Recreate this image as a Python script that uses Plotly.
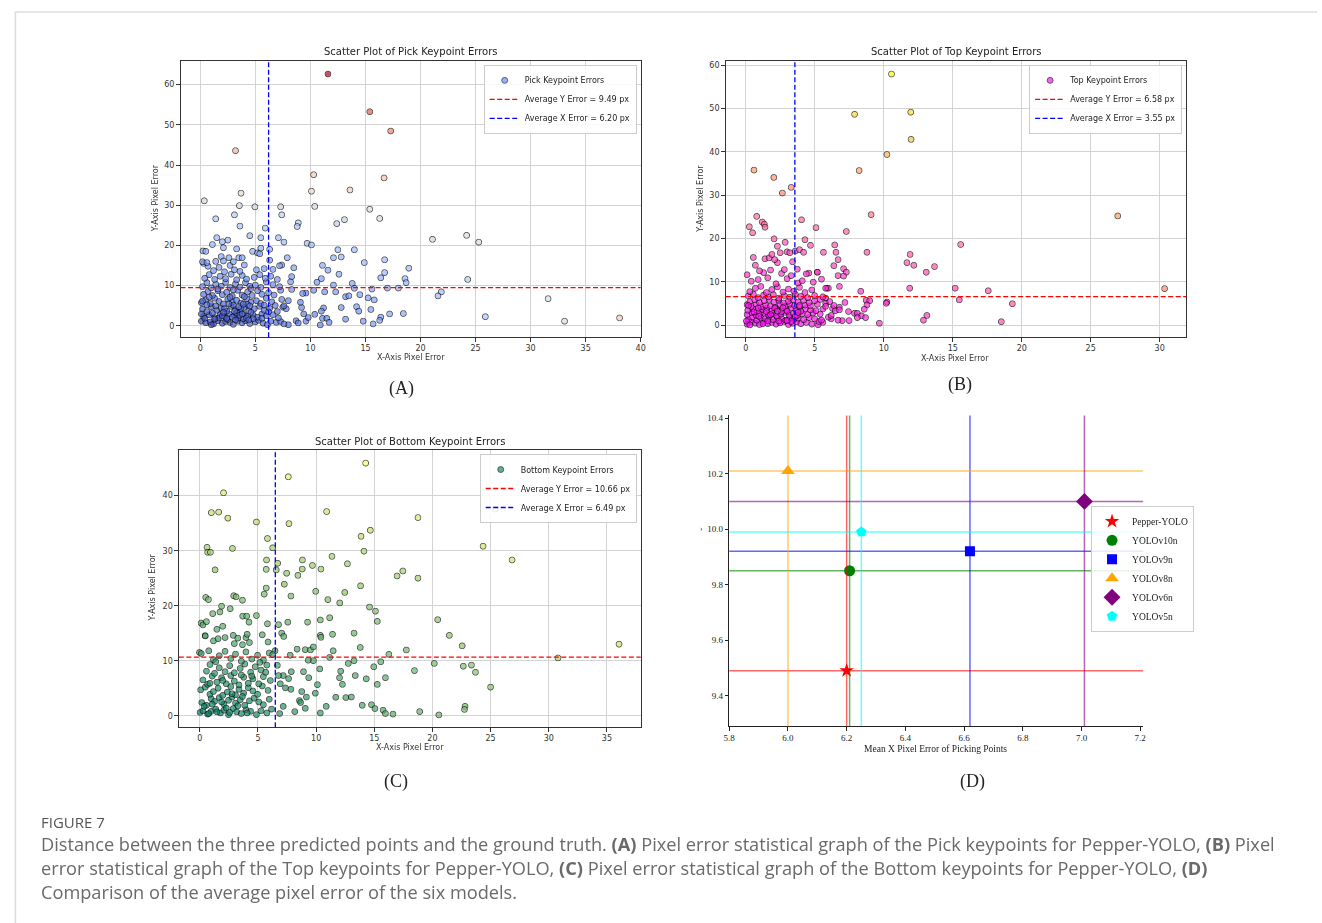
import numpy as np
import plotly.graph_objects as go

W, H = 1322, 923

# ---------------- DATA ----------------
# (A) Pick keypoint errors: x / y pixel error
pick_x = [11.6, 15.4, 17.3, 3.2, 10.3, 16.7, 13.6, 10.1, 3.7, 0.36,
          3.55, 4.96, 7.3, 10.4, 15.4, 3.1, 7.4, 1.4, 16.3, 13.1,
          12.4, 8.9, 8.8, 3.6, 5.9, 21.1, 24.2, 25.3, 4.5, 7.1,
          5.5, 1.5, 2.5, 2.0, 7.6, 1.1, 9.7, 10.1, 2.1, 5.5,
          3.3, 6.3, 12.5, 14.0, 0.24, 0.5, 4.75, 5.2, 12.8, 12.1,
          7.9, 16.75, 14.9, 11.1, 7.4, 18.95, 11.6, 16.75, 12.6, 8.3,
          16.4, 18.6, 18.7, 24.3, 11.0, 10.6, 13.8, 12.1, 17.0, 18.0,
          15.6, 14.0, 11.3, 12.3, 10.3, 21.9, 21.6, 31.6, 13.2, 13.5,
          14.5, 15.25, 15.8, 14.2, 14.4, 15.5, 12.8, 11.2, 11.0, 10.4,
          17.2, 18.45, 25.9, 38.1, 33.1, 16.4, 16.3, 13.2, 14.8, 15.7,
          11.1, 11.5, 11.7, 10.9, 9.6, 9.8, 9.4, 9.2, 9.1, 9.6,
          9.3, 8.7, 8.9, 8.0, 8.3, 8.2, 8.5,
          0.1, 0.5, 0.9, 1.2, 1.6, 2.0, 2.3, 2.7, 3.0, 3.4, 3.8, 4.1, 4.5, 5.0, 5.3, 5.7, 6.1, 6.4, 6.9, 7.3, 7.6,
          0.3, 0.8, 1.3, 1.8, 2.2, 2.6, 3.1, 3.5, 3.9, 4.3, 4.8, 5.2, 5.6, 6.0, 6.6, 7.1,
          0.2, 0.6, 1.0, 1.5, 1.9, 2.4, 2.8, 3.2, 3.6, 4.0, 4.4, 4.9, 5.4, 5.8, 6.3, 7.0, 7.5,
          0.1, 0.5, 0.9, 1.3, 1.7, 2.1, 2.5, 2.9, 3.3, 3.7, 4.2, 4.6, 5.1, 5.5, 6.0, 6.5, 7.4,
          0.3, 0.7, 1.1, 1.6, 2.0, 2.4, 2.9, 3.4, 3.8, 4.3, 4.7, 5.2, 5.6, 6.2, 6.7, 7.3,
          0.2, 0.6, 1.0, 1.4, 1.9, 2.3, 2.7, 3.2, 3.6, 4.1, 4.5, 5.0, 5.5, 6.0, 6.6, 7.2,
          0.4, 0.8, 1.3, 1.8, 2.3, 2.8, 3.3, 3.8, 4.2, 4.9, 5.4, 5.9, 6.4, 7.0,
          0.3, 0.7, 1.2, 1.7, 2.2, 2.7, 3.1, 3.6, 4.0, 5.1, 5.8, 6.6, 7.2,
          0.2, 0.6, 1.4, 1.9, 2.1, 2.6, 3.0, 3.5, 3.8, 6.3, 5.4,
          0.4, 1.1, 1.7, 2.5, 3.3, 3.9, 4.6, 2.2, 3.0, 3.7, 4.3, 1.4, 0.8, 2.7, 4.0, 1.6, 3.0, 4.6, 0.1, 0.2, 5.8, 2.0, 3.6, 4.8, 1.0,
          2.4, 2.9, 3.2, 3.5, 3.9, 4.2, 4.5, 2.6, 3.1, 3.8, 4.4, 2.1, 1.3, 0.6, 5.6, 6.2, 6.8, 7.8, 7.6, 8.0]
pick_y = [62.8, 53.4, 48.6, 43.7, 37.7, 36.9, 33.9, 33.6, 33.1, 31.2,
          30.0, 29.7, 29.7, 29.8, 29.1, 27.7, 27.7, 26.7, 26.8, 26.5,
          25.5, 25.7, 24.8, 24.9, 24.4, 21.6, 22.6, 20.9, 22.5, 22.0,
          22.0, 22.0, 21.4, 21.0, 20.9, 20.3, 20.6, 20.2, 19.5, 19.4,
          19.2, 19.1, 19.0, 19.0, 18.7, 18.6, 18.6, 18.2, 17.2, 17.0,
          17.0, 16.5, 15.8, 15.1, 15.2, 14.4, 13.9, 13.3, 12.9, 12.3,
          12.0, 11.8, 10.8, 11.6, 11.8, 10.9, 10.6, 10.2, 9.45, 9.45,
          9.2, 9.4, 8.5, 8.5, 8.9, 8.5, 7.5, 6.8, 7.3, 7.5,
          7.8, 7.0, 6.5, 4.8, 3.7, 4.1, 4.6, 4.5, 3.7, 2.9,
          3.0, 3.1, 2.3, 2.0, 1.2, 2.2, 1.4, 1.7, 1.2, 0.5,
          1.9, 1.9, 0.9, 0.25, 1.2, 2.1, 3.0, 4.6, 5.9, 8.2,
          8.1, 1.3, 0.75, 0.3, 9.1, 11.0, 14.5,
          1.2, 0.8, 1.0, 0.5, 1.3, 0.7, 1.1, 0.9, 0.4, 1.2, 0.8, 1.3, 0.6, 1.0, 1.4, 0.7, 0.3, 1.2, 0.9, 1.1, 0.5,
          2.4, 2.8, 2.1, 2.9, 2.3, 3.0, 2.6, 2.0, 2.9, 2.4, 2.7, 2.2, 3.0, 2.5, 2.8, 2.0,
          4.2, 3.6, 4.8, 3.9, 4.5, 3.7, 4.9, 4.1, 3.5, 4.6, 3.8, 4.3, 4.9, 3.9, 4.4, 3.6, 4.7,
          5.8, 6.5, 5.6, 6.9, 6.1, 5.5, 6.7, 5.9, 6.4, 5.7, 6.8, 5.9, 6.3, 5.6, 6.9, 6.0, 6.6,
          7.9, 8.6, 7.6, 8.8, 7.8, 8.4, 7.5, 8.9, 7.7, 8.5, 7.6, 8.8, 7.9, 8.3, 7.7, 8.9,
          9.8, 10.8, 9.5, 10.4, 9.9, 10.9, 9.6, 10.5, 9.7, 10.8, 9.9, 10.2, 9.6, 11.0, 10.3, 9.8,
          11.9, 12.8, 11.6, 12.4, 11.8, 12.9, 11.5, 12.6, 11.7, 12.1, 12.8, 11.9, 12.4, 11.6,
          15.6, 14.9, 13.8, 14.6, 13.5, 15.1, 14.0, 13.6, 15.2, 14.0, 14.3, 14.1, 15.0,
          16.0, 15.8, 16.1, 17.3, 16.2, 17.0, 16.0, 17.0, 17.0, 16.4, 18.0,
          1.9, 3.2, 2.0, 1.6, 3.3, 1.8, 3.4, 4.3, 5.2, 4.4, 5.3, 5.0, 7.2, 7.1, 7.3, 9.2, 9.0, 9.3, 3.0, 6.2, 5.2, 2.5, 2.7, 1.8, 0.3,
          1.9, 2.2, 1.5, 4.8, 5.4, 2.0, 5.0, 5.5, 3.7, 3.0, 1.5, 3.4, 1.7, 5.3, 1.9, 3.5, 5.1, 4.3, 5.0, 6.3]

# (B) Top keypoint errors
top_x = [10.58, 7.9, 11.98, 12.0, 10.25, 8.23, 0.6, 2.04, 3.3, 2.66,
         27.0, 9.1, 0.8, 4.05, 1.2, 1.35, 1.4, 0.26, 0.5, 5.1,
         7.3, 2.06, 4.3, 2.86, 4.7, 6.46, 15.6, 2.3, 8.8, 6.55,
         5.64, 11.93, 11.7, 12.2, 13.7, 13.1, 7.1, 7.3, 6.4, 6.7,
         6.7, 7.1, 6.8, 5.2, 4.58, 3.74, 11.9, 15.2, 17.6, 30.4,
         8.35, 15.5, 19.35, 10.25, 10.2, 8.74, 9.0, 8.8, 8.6, 7.46,
         13.15, 12.9, 18.55, 9.7, 7.9, 8.1, 8.4, 8.1, 8.7, 7.5,
         7.0, 6.7, 6.2, 5.6, 5.25, 6.8, 6.3, 6.5, 5.9, 6.0,
         5.8, 5.8, 7.2,
         0.1, 0.4, 0.7, 1.0, 1.3, 1.6, 1.9, 2.2, 2.5, 2.8, 3.1, 3.4, 3.7, 4.0, 4.4, 4.8, 5.3,
         0.2, 0.5, 0.8, 1.1, 1.4, 1.7, 2.0, 2.3, 2.6, 2.9, 3.2, 3.5, 3.8, 4.2, 4.6, 5.0, 5.5, 6.0,
         0.1, 0.45, 0.75, 1.05, 1.35, 1.65, 1.95, 2.25, 2.55, 2.85, 3.15, 3.45, 3.75, 4.1, 4.5, 4.9, 5.4, 6.2,
         0.15, 0.5, 0.85, 1.2, 1.55, 1.9, 2.25, 2.6, 2.95, 3.3, 3.65, 4.0, 4.35, 4.7, 5.1, 5.6, 6.8,
         0.1, 0.4, 0.75, 1.1, 1.45, 1.8, 2.15, 2.5, 2.85, 3.2, 3.55, 3.9, 4.3, 4.7, 5.2, 5.8, 6.4,
         0.3, 0.65, 1.0, 1.35, 1.7, 2.05, 2.4, 2.75, 3.1, 3.45, 3.8, 4.2, 4.6, 5.0, 5.4, 6.1,
         0.2, 0.55, 0.9, 1.3, 1.65, 2.0, 2.4, 2.8, 3.2, 3.6, 4.0, 4.5, 5.0, 5.6,
         0.3, 0.7, 1.1, 1.5, 1.9, 2.3, 2.7, 3.1, 3.5, 3.9, 4.3, 4.8, 5.8,
         0.1, 0.4, 0.9, 1.3, 1.6, 2.2, 2.6, 3.0, 3.3, 3.8, 4.1, 4.4, 4.9, 5.2, 5.5,
         0.7, 1.0, 1.4, 1.7, 1.9, 2.3, 2.5, 2.8, 3.0, 3.2, 3.4, 3.6, 3.9, 4.2, 0.55, 1.8, 2.1,
         0.05, 0.3, 0.6, 0.95, 1.25, 1.5, 1.8, 2.1, 2.4, 2.7, 3.0, 3.3, 3.6, 3.9, 0.2, 0.9, 1.6, 2.3, 3.0, 3.8]
top_y = [58.1, 48.8, 49.3, 43.0, 39.5, 35.8, 35.9, 34.2, 31.9, 30.6,
         25.3, 25.6, 25.2, 24.4, 23.9, 23.4, 22.7, 22.8, 21.4, 22.6,
         21.7, 20.0, 19.8, 19.2, 18.5, 18.6, 18.7, 18.3, 16.9, 16.9,
         16.9, 16.4, 14.5, 13.9, 13.6, 12.3, 13.1, 12.3, 13.8, 15.2,
         11.5, 11.4, 9.0, 12.3, 12.1, 13.0, 8.6, 8.6, 8.0, 8.5,
         7.9, 5.9, 5.0, 5.4, 5.1, 5.8, 5.7, 4.75, 3.75, 3.2,
         2.3, 1.2, 0.85, 0.5, 2.8, 2.8, 2.2, 1.8, 1.8, 1.1,
         1.1, 1.2, 1.5, 0.7, 0.15, 4.2, 3.9, 3.4, 8.6, 8.6,
         6.3, 5.1, 5.3,
         0.3, 0.8, 0.5, 0.2, 0.9, 0.4, 0.7, 0.3, 0.6, 0.9, 0.2, 0.5, 0.8, 0.4, 0.7, 0.3, 0.9,
         1.4, 1.9, 1.2, 1.7, 1.5, 2.0, 1.3, 1.8, 1.6, 1.2, 1.9, 1.4, 1.7, 1.3, 1.8, 1.5, 1.2, 1.9,
         2.5, 2.9, 2.3, 2.7, 3.0, 2.4, 2.8, 2.2, 2.6, 3.0, 2.4, 2.8, 2.3, 2.7, 2.5, 2.9, 2.6, 2.3,
         3.5, 3.9, 3.3, 3.7, 4.0, 3.4, 3.8, 3.2, 3.6, 4.0, 3.5, 3.3, 3.9, 3.6, 3.4, 3.8, 3.6,
         4.8, 4.4, 4.9, 4.3, 4.7, 4.5, 4.2, 4.8, 4.4, 4.9, 4.6, 4.3, 4.7, 4.5, 4.9, 4.4, 4.6,
         5.5, 5.9, 5.3, 5.7, 6.0, 5.4, 5.8, 5.2, 5.6, 6.0, 5.4, 5.8, 5.3, 5.7, 6.0, 5.5,
         6.8, 7.2, 6.4, 7.0, 6.6, 7.1, 6.3, 6.9, 6.5, 7.2, 6.7, 6.4, 6.9, 6.6,
         7.8, 8.6, 9.0, 7.6, 8.3, 8.9, 7.7, 8.4, 7.9, 8.8, 7.6, 8.2, 8.6,
         11.7, 10.2, 10.6, 12.2, 11.0, 9.6, 12.0, 10.8, 11.5, 9.8, 10.3, 11.9, 10.0, 12.3, 10.7,
         13.9, 12.6, 15.4, 15.6, 16.4, 14.5, 16.8, 12.9, 17.0, 16.8, 14.7, 17.2, 17.5, 16.9, 15.7, 12.8, 15.2,
         1.0, 0.1, 3.1, 2.1, 0.4, 3.2, 2.5, 4.0, 1.0, 4.1, 3.3, 0.9, 2.1, 4.6, 4.6, 4.0, 1.0, 3.3, 1.1, 3.0]

# (C) Bottom keypoint errors
bottom_x = [14.3, 7.64, 2.07, 1.02, 1.65, 10.94, 25.45, 2.44, 18.8, 4.9,
            7.7, 14.7, 13.9, 5.85, 6.3, 24.4, 0.65, 0.7, 0.94, 2.84,
            14.15, 11.4, 26.9, 5.77, 8.86, 6.73, 12.73, 9.72, 8.84, 10.45,
            5.74, 6.6, 1.34, 17.5, 17.0, 7.5, 8.47, 18.8, 13.86, 5.74,
            7.3, 10.0, 12.5, 5.57, 7.87, 2.95, 3.15, 3.7, 11.05, 0.54,
            0.77, 12.07, 14.63, 15.14, 1.9, 2.64, 1.76, 1.14, 4.9, 3.72,
            4.06, 11.2, 15.3, 20.5, 10.4, 9.3, 7.6, 6.8, 5.85, 0.14,
            0.3, 0.6, 2.0, 4.26, 13.3, 11.45, 21.5, 10.4, 10.45, 7.07,
            7.25, 5.4, 0.48, 4.0, 22.6, 13.83, 17.8, 9.1, 9.55, 9.8,
            8.4, 11.5, 16.3, 36.1, 30.85, 11.2, 7.8, 20.2, 23.4, 22.7,
            23.75, 18.5, 15.6, 15.0, 13.3, 12.8, 9.8, 9.35, 9.4, 8.95,
            10.35, 12.15, 13.4, 14.35, 16.0, 12.05, 15.3, 12.3, 25.05, 10.15,
            8.8, 9.2, 8.6, 8.7, 9.97, 11.73, 12.6, 13.07, 10.9, 10.4,
            9.1, 8.2, 7.2, 6.9, 14.0, 14.8, 15.1, 15.8, 16.0, 16.65,
            18.95, 20.6, 22.85, 22.8, 7.2, 6.8, 6.95, 7.4, 6.7, 7.9,
            7.67, 7.87, 6.5,
            0.05, 0.3, 0.7, 1.0, 1.4, 1.8, 2.1, 2.5, 2.9, 3.2, 3.6, 4.0, 4.4, 4.9, 5.3, 5.8, 6.2,
            0.2, 0.6, 1.0, 1.3, 1.7, 2.1, 2.5, 2.8, 3.1, 3.5, 3.9, 4.3, 4.7, 5.1, 5.5, 6.0,
            0.1, 0.5, 0.9, 1.2, 1.6, 2.0, 2.4, 2.7, 3.1, 3.4, 3.8, 4.2, 4.6, 5.0, 5.4, 5.9,
            0.3, 0.7, 1.1, 1.5, 1.9, 2.3, 2.7, 3.0, 3.4, 3.8, 4.2, 4.6, 5.1, 5.5, 6.1,
            0.6, 0.9, 1.3, 1.7, 2.2, 2.6, 3.0, 3.5, 3.9, 4.4, 4.8, 5.3, 5.8,
            0.0, 0.15, 0.8, 1.2, 1.7, 2.2, 2.7, 3.1, 3.6, 4.0, 4.5, 5.0, 5.5, 6.0, 6.3,
            0.5, 1.2, 1.6, 2.2, 2.9, 3.3, 3.7, 4.1, 4.3, 5.9, 1.5, 3.0,
            0.4, 0.8, 1.1, 1.5, 1.9, 2.3, 2.6, 3.3, 3.7, 4.1, 2.0, 2.8, 3.6, 1.4, 0.9, 4.5, 5.2, 5.7]
bottom_y = [46.0, 43.5, 40.6, 37.0, 37.1, 37.2, 37.65, 36.0, 36.1, 35.3,
            35.0, 33.8, 32.7, 32.3, 30.6, 30.9, 30.7, 29.8, 29.8, 30.5,
            30.0, 29.05, 28.4, 28.4, 28.4, 27.8, 27.7, 27.4, 26.75, 26.75,
            26.7, 26.6, 26.6, 26.4, 25.5, 26.0, 25.6, 25.1, 23.7, 23.3,
            24.0, 22.7, 22.5, 22.2, 21.85, 21.9, 21.7, 21.1, 21.2, 21.6,
            21.2, 20.6, 19.85, 19.1, 20.0, 19.55, 18.95, 18.65, 18.3, 18.2,
            18.2, 17.9, 17.25, 17.55, 17.5, 17.1, 17.1, 16.65, 16.8, 16.95,
            16.6, 17.2, 16.35, 17.1, 15.1, 14.9, 14.7, 14.7, 14.35, 15.1,
            14.5, 14.8, 14.65, 14.3, 12.8, 12.5, 12.05, 12.1, 12.05, 12.6,
            12.2, 11.9, 11.25, 13.1, 10.6, 10.7, 11.1, 9.6, 9.3, 9.1,
            8.0, 8.3, 9.9, 9.0, 10.1, 9.6, 10.1, 10.2, 7.0, 8.1,
            8.6, 8.2, 7.4, 6.8, 7.0, 7.0, 5.8, 5.8, 5.3, 5.75,
            4.5, 3.5, 2.85, 2.5, 4.2, 3.45, 3.4, 3.5, 1.8, 0.6,
            1.45, 0.85, 1.8, 0.5, 2.0, 2.1, 1.4, 1.1, 0.5, 0.4,
            0.85, 0.25, 1.8, 1.25, 7.4, 7.4, 5.9, 5.15, 9.25, 8.1,
            6.85, 4.9, 11.9,
            0.7, 1.0, 0.4, 0.9, 1.3, 0.6, 1.1, 0.3, 1.4, 0.8, 0.5, 1.2, 0.9, 0.3, 1.0, 0.6, 1.3,
            2.5, 2.0, 3.2, 2.7, 3.4, 2.2, 2.9, 3.5, 2.4, 3.0, 2.0, 2.8, 3.3, 2.6, 2.1, 3.1,
            4.8, 5.3, 4.0, 4.5, 5.1, 3.8, 4.4, 5.4, 3.9, 4.9, 4.2, 5.2, 4.6, 4.0, 5.5, 4.7,
            6.6, 5.8, 7.3, 6.2, 7.0, 5.9, 7.4, 6.4, 5.7, 7.1, 6.0, 6.8, 5.9, 7.2, 6.5,
            8.2, 9.4, 7.8, 8.8, 8.1, 9.2, 7.9, 8.7, 9.5, 8.0, 9.0, 8.4, 9.3,
            11.6, 11.4, 11.9, 10.3, 11.0, 11.8, 10.5, 11.3, 10.0, 11.7, 10.4, 11.1, 10.2, 11.5, 11.2,
            14.6, 13.7, 14.1, 14.3, 14.7, 14.2, 13.0, 14.9, 13.4, 13.5, 15.8, 13.2,
            1.8, 0.5, 2.2, 0.8, 2.6, 1.5, 0.7, 1.9, 3.6, 0.6, 6.5, 4.1, 7.5, 9.9, 6.0, 7.3, 9.8, 8.0]

avg_labels = ["Pick", "Top", "Bottom"]
avg_x_err = [6.20, 3.55, 6.49]
avg_y_err = [9.49, 6.58, 10.66]

# (D) model comparison
models = ["Pepper-YOLO", "YOLOv10n", "YOLOv9n", "YOLOv8n", "YOLOv6n", "YOLOv5n"]
mean_x = [6.20, 6.21, 6.62, 6.00, 7.01, 6.25]
mean_y = [9.49, 9.85, 9.92, 10.21, 10.10, 9.99]

# ---------------- STYLE ----------------
model_colors = ["#ff0000", "#008000", "#0000ff", "#ffa500", "#800080", "#00ffff"]
model_symbols = ["star", "circle", "square", "triangle-up", "diamond", "pentagon"]
model_sizes = [11, 11, 10, 12, 13, 11]

coolwarm = [[0.0, "#3b4cc0"], [0.1, "#5470de"], [0.2, "#6f92f3"], [0.3, "#8db0fe"],
            [0.4, "#aac7fd"], [0.5, "#dddcdc"], [0.6, "#f2cbb7"], [0.7, "#f7ac8e"],
            [0.8, "#ee8468"], [0.9, "#d65244"], [1.0, "#b40426"]]
spring = [[0.0, "#ff00ff"], [1.0, "#ffff00"]]
summer = [[0.0, "#008066"], [1.0, "#ffff66"]]


def fx(px):
    return px / W


def fy(py):
    return 1 - py / H


def mrange(v):
    lo, hi = min(v), max(v)
    pad = 0.05 * (hi - lo)
    return [lo - pad, hi + pad]


fig = go.Figure()

panels = [
    dict(name="Pick", xs=pick_x, ys=pick_y, cs=coolwarm, lc="#7b9ff9", ax="x", ay="y",
         leg="legend", dom_x=[176, 640], dom_y=[59, 336], title_c=(408, 50),
         xl=(408, 356), yl=(151, 197), legpos=(636, 63), lab=("(A)", 399, 387)),
    dict(name="Top", xs=top_x, ys=top_y, cs=spring, lc="#f03ce8", ax="x2", ay="y2",
         leg="legend2", dom_x=[725.7, 1190], dom_y=[59, 336], title_c=(958, 50),
         xl=(957, 357), yl=(700, 197), legpos=(1186, 63), lab=("(B)", 962, 383)),
    dict(name="Bottom", xs=bottom_x, ys=bottom_y, cs=summer, lc="#3a9a70", ax="x3", ay="y3",
         leg="legend3", dom_x=[174.3, 640], dom_y=[449, 726.7], title_c=(407, 440),
         xl=(407, 747), yl=(148, 587), legpos=(636, 453), lab=("(C)", 393, 781)),
]

sans = "DejaVu Sans"
serif = "Liberation Serif"
annotations = []
shapes = []
layout_axes = {}

for i, p in enumerate(panels):
    xs = np.array(p["xs"])
    ys = np.array(p["ys"])
    dist = np.sqrt(xs ** 2 + ys ** 2)
    fig.add_trace(go.Scattergl(
        x=xs, y=ys, mode="markers", xaxis=p["ax"], yaxis=p["ay"], showlegend=False,
        marker=dict(size=6, color=dist, colorscale=p["cs"], opacity=0.7,
                    line=dict(color="black", width=0.7)),
        hoverinfo="skip"))
    fig.add_trace(go.Scatter(
        x=[None], y=[None], mode="markers", xaxis=p["ax"], yaxis=p["ay"],
        name=f"{p['name']} Keypoint Errors", legend=p["leg"],
        marker=dict(size=6, color=p["lc"], opacity=0.8, line=dict(color="black", width=0.7))))
    shapes.append(dict(type="line", xref=f"{p['ax']} domain", yref=p["ay"], x0=0, x1=1,
                       y0=avg_y_err[i], y1=avg_y_err[i],
                       line=dict(color="#ff0000", width=1.3, dash="5px,2.5px"),
                       showlegend=True, legend=p["leg"],
                       name=f"Average Y Error = {avg_y_err[i]:.2f} px"))
    shapes.append(dict(type="line", xref=p["ax"], yref=f"{p['ay']} domain", y0=0, y1=1,
                       x0=avg_x_err[i], x1=avg_x_err[i],
                       line=dict(color="#0000ff", width=1.3, dash="5px,2.5px"),
                       showlegend=True, legend=p["leg"],
                       name=f"Average X Error = {avg_x_err[i]:.2f} px"))
    axis_style = dict(showline=True, mirror=True, linecolor="#333333", linewidth=1,
                      showgrid=True, gridcolor="#d3d3d3", gridwidth=1, zeroline=False,
                      ticks="outside", ticklen=3.5, tickwidth=1, tickcolor="#333333",
                      tickfont=dict(family=sans, size=8, color="#333333"))
    xkey = "xaxis" if p["ax"] == "x" else "xaxis" + p["ax"][1:]
    ykey = "yaxis" if p["ay"] == "y" else "yaxis" + p["ay"][1:]
    layout_axes[xkey] = dict(axis_style, domain=[fx(p["dom_x"][0]), fx(p["dom_x"][1])],
                             anchor=p["ay"], range=mrange(p["xs"]), dtick=5, tick0=0)
    layout_axes[ykey] = dict(axis_style, domain=[fy(p["dom_y"][1]), fy(p["dom_y"][0])],
                             anchor=p["ax"], range=mrange(p["ys"]), dtick=10, tick0=0)
    annotations.append(dict(text=f"Scatter Plot of {p['name']} Keypoint Errors", xref="paper",
                            yref="paper", x=fx(p["title_c"][0]), y=fy(p["title_c"][1]),
                            xanchor="center", yanchor="middle", showarrow=False,
                            font=dict(family=sans, size=10, color="#222222")))
    annotations.append(dict(text="X-Axis Pixel Error", xref="paper", yref="paper",
                            x=fx(p["xl"][0]), y=fy(p["xl"][1]), xanchor="center",
                            yanchor="middle", showarrow=False,
                            font=dict(family=sans, size=8, color="#333333")))
    annotations.append(dict(text="Y-Axis Pixel Error", xref="paper", yref="paper",
                            x=fx(p["yl"][0]), y=fy(p["yl"][1]), xanchor="center",
                            yanchor="middle", showarrow=False, textangle=-90,
                            font=dict(family=sans, size=8, color="#333333")))
    annotations.append(dict(text=p["lab"][0], xref="paper", yref="paper",
                            x=fx(p["lab"][1]), y=fy(p["lab"][2]), xanchor="center",
                            yanchor="middle", showarrow=False,
                            font=dict(family=serif, size=18, color="#222222")))

# Panel D
for j in range(len(models)):
    shapes.append(dict(type="line", xref="x4", yref="y4 domain", x0=mean_x[j], x1=mean_x[j],
                       y0=0, y1=1, line=dict(color=model_colors[j], width=1.5),
                       opacity=0.6, layer="above"))
    shapes.append(dict(type="line", xref="x4 domain", yref="y4", x0=0, x1=1,
                       y0=mean_y[j], y1=mean_y[j], line=dict(color=model_colors[j], width=1.5),
                       opacity=0.6, layer="above"))
for j in range(len(models)):
    fig.add_trace(go.Scatter(
        x=[mean_x[j]], y=[mean_y[j]], mode="markers", xaxis="x4", yaxis="y4",
        name=models[j], legend="legend4",
        marker=dict(symbol=model_symbols[j], size=model_sizes[j], color=model_colors[j],
                    line=dict(width=0))))

d_axis = dict(showline=True, mirror=False, linecolor="#222222", linewidth=1, showgrid=False,
              zeroline=False, ticks="outside", ticklen=3.5, tickwidth=1, tickcolor="#222222",
              tickfont=dict(family=serif, size=9, color="#222222"))
layout_axes["xaxis4"] = dict(d_axis, domain=[fx(729.3), fx(1146.7)], anchor="y4",
                             range=[5.8, 7.21], dtick=0.2, tick0=5.8, tickformat=".1f")
layout_axes["yaxis4"] = dict(d_axis, domain=[fy(725.7), fy(414.3)], anchor="x4",
                             range=[9.29, 10.41], dtick=0.2, tick0=9.4, tickformat=".1f")
annotations.append(dict(text="Mean X Pixel Error of Picking Points", xref="paper", yref="paper",
                        x=fx(937), y=fy(749), xanchor="center", yanchor="middle",
                        showarrow=False, font=dict(family=serif, size=9.5, color="#222222")))
annotations.append(dict(text="›", xref="paper", yref="paper", x=fx(701), y=fy(528),
                        xanchor="center", yanchor="middle", showarrow=False,
                        font=dict(family=serif, size=8, color="#444444")))
annotations.append(dict(text="(D)", xref="paper", yref="paper", x=fx(975), y=fy(781),
                        xanchor="center", yanchor="middle", showarrow=False,
                        font=dict(family=serif, size=18, color="#222222")))

# caption
cap_font = "Open Sans"
annotations.append(dict(text="FIGURE 7", xref="paper", yref="paper", x=fx(33), y=fy(822),
                        xanchor="left", yanchor="middle", showarrow=False,
                        font=dict(family=cap_font, size=15, color="#555555")))
cap_lines = [
    "Distance between the three predicted points and the ground truth. <b>(A)</b> Pixel error statistical graph of the Pick keypoints for Pepper-YOLO, <b>(B)</b> Pixel",
    "error statistical graph of the Top keypoints for Pepper-YOLO, <b>(C)</b> Pixel error statistical graph of the Bottom keypoints for Pepper-YOLO, <b>(D)</b>",
    "Comparison of the average pixel error of the six models.",
]
for k, line in enumerate(cap_lines):
    annotations.append(dict(text=line, xref="paper", yref="paper", x=fx(33), y=fy(844 + 24 * k),
                            xanchor="left", yanchor="middle", showarrow=False,
                            font=dict(family=cap_font, size=18.2, color="#6a6a6a")))

# page frame
shapes.append(dict(type="line", xref="paper", yref="paper", x0=fx(9), x1=1, y0=fy(10), y1=fy(10),
                   line=dict(color="#dcdcdc", width=1.5)))
shapes.append(dict(type="line", xref="paper", yref="paper", x0=fx(9.5), x1=fx(9.5), y0=0,
                   y1=fy(10), line=dict(color="#dcdcdc", width=1.5)))

leg_common = dict(bgcolor="rgba(255,255,255,0.85)", bordercolor="#cccccc", borderwidth=1,
                  xanchor="right", yanchor="top", font=dict(family=sans, size=8, color="#222222"),
                  itemwidth=30, tracegroupgap=0)
legends = {}
for p in panels:
    legends[p["leg"]] = dict(leg_common, x=fx(p["legpos"][0]), y=fy(p["legpos"][1]))
legends["legend4"] = dict(bgcolor="rgba(255,255,255,0.85)", bordercolor="#cccccc", borderwidth=1,
                          xanchor="right", yanchor="middle", x=fx(1198), y=fy(568),
                          font=dict(family=serif, size=9.5, color="#222222"), itemwidth=30)

fig.update_layout(
    width=W, height=H, margin=dict(l=0, r=0, t=0, b=0),
    paper_bgcolor="white", plot_bgcolor="white",
    annotations=annotations, shapes=shapes, **layout_axes, **legends,
)

fig.write_html(
    "out.html",
    config={"displayModeBar": False},
    post_script="document.body.style.margin='0px';document.body.style.padding='0px';"
                "document.body.style.overflow='hidden';",
)
